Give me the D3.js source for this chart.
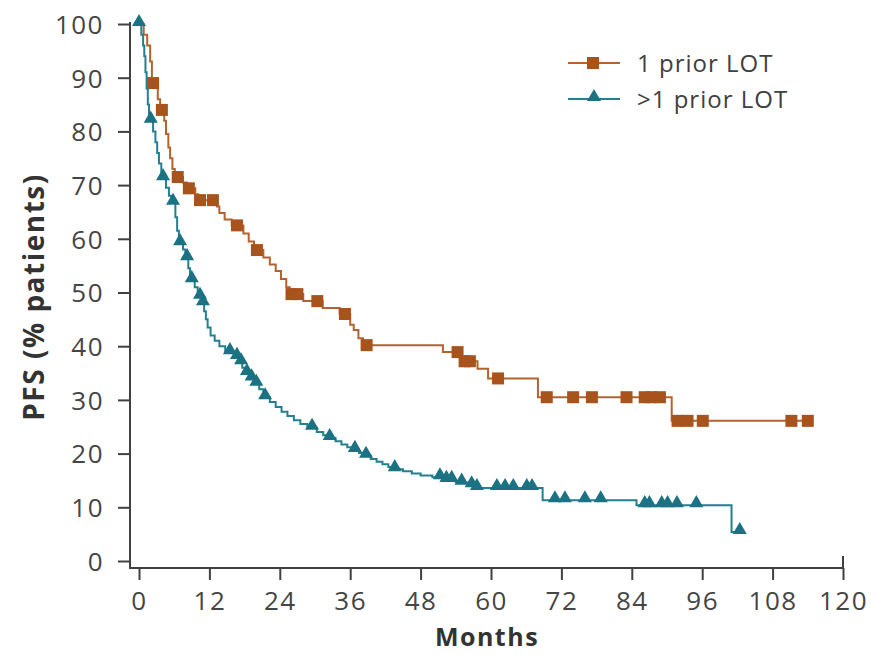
<!DOCTYPE html>
<html>
<head>
<meta charset="utf-8">
<script src="https://cdn.jsdelivr.net/npm/d3@7"></script>
<style>
  body { margin: 0; background: #fff; }
  svg text { font-family: "Open Sans", sans-serif; }
  .tick text { fill: #454545; font-size: 26px; letter-spacing: 1.5px; }
  .tick line { stroke: #404040; stroke-width: 2; }
</style>
</head>
<body>
<div id="chart"></div>
<script>
// Kaplan-Meier PFS by number of prior lines of therapy
var xTicks = [0, 12, 24, 36, 48, 60, 72, 84, 96, 108, 120];
var yTicks = [0, 10, 20, 30, 40, 50, 60, 70, 80, 90, 100];

// step points: [month, PFS %]
var onePriorSteps = [
  [0, 100], [0.8, 98], [1.4, 96], [1.9, 93], [2.2, 89], [3.2, 86], [3.6, 84],
  [4.3, 82], [4.6, 79.5], [5.0, 77], [5.3, 75], [5.7, 73], [6.1, 71.5],
  [7.5, 70.5], [8.2, 69.4], [9.6, 68.3], [10.1, 67.2], [13.3, 66], [13.7, 64.8],
  [14.6, 63.6], [15.8, 62.5], [17.8, 61], [18.7, 59.5], [19.6, 57.9],
  [21.2, 56.5], [22.3, 55.2], [23.3, 54], [24.2, 52.5], [25.1, 51], [25.7, 49.7],
  [28, 48.4], [31.3, 47.1], [34.2, 46], [36.0, 44], [36.6, 43], [37.4, 41.5],
  [38.2, 40.2], [51.8, 38.9], [55.0, 37.2], [57.7, 35.8], [59.5, 34],
  [68.0, 30.5], [90.8, 26.1]
];
var onePriorCensor = [2.4, 3.9, 6.6, 8.5, 10.4, 12.6, 16.7, 20.1, 26.0, 27.0,
  30.4, 35.1, 38.8, 54.3, 55.5, 56.4, 61.2, 69.5, 74.0, 77.2, 83.1, 86.2, 87.4,
  88.8, 91.8, 93.5, 96.1, 111.2, 114];

var multiPriorSteps = [
  [0, 100], [0.4, 98], [0.7, 96], [0.9, 94], [1.1, 91], [1.3, 88], [1.5, 85],
  [1.7, 82], [2.4, 80], [2.8, 78], [3.1, 76], [3.4, 74], [3.8, 71.3],
  [4.6, 69.5], [5.1, 68], [5.5, 66.7], [6.2, 64], [6.5, 61.5], [6.8, 59.2],
  [7.5, 58], [7.9, 56.4], [8.4, 54.5], [8.7, 53], [8.9, 52.3], [9.5, 51],
  [10.0, 49.2], [10.6, 48], [11.1, 46.5], [11.4, 45], [11.7, 43.5], [12.2, 42],
  [12.9, 41], [13.7, 40], [14.7, 38.9], [16.2, 38], [16.9, 37], [17.6, 36],
  [18.4, 35], [19.2, 34], [19.8, 33], [20.5, 32], [21.2, 30.5], [22.3, 29.6],
  [23.3, 28.7], [24.3, 27.8], [25.3, 27], [26.4, 26.2], [27.5, 25.5],
  [28.7, 24.8], [30.3, 24], [31.4, 23.4], [32.4, 22.9], [33.5, 22.3],
  [34.5, 21.7], [35.5, 21.2], [36.4, 20.7], [37.5, 20.1], [38.4, 19.6],
  [39.5, 19], [40.5, 18.5], [41.5, 18], [42.5, 17.5], [43.3, 17.1], [45, 16.7],
  [46.5, 16.3], [48, 15.9], [50, 15.6], [52.3, 15.1], [54, 14.6], [56.2, 14.1],
  [57.5, 13.6], [68.8, 11.3], [84.8, 10.4], [101, 5.4]
];
var multiPriorCensor = [0, 2.0, 4.1, 5.8, 7.0, 8.2, 9.0, 10.4, 10.9, 15.5, 16.7,
  17.4, 18.4, 19.2, 20.0, 21.5, 29.5, 32.5, 36.8, 38.7, 43.6, 51.3, 52.4, 53.3,
  55.0, 56.7, 57.6, 61.0, 62.4, 63.8, 66.1, 67.0, 70.9, 72.6, 76.0, 78.7, 86.2,
  87.0, 89.1, 90.1, 91.7, 95.0, 102.4];

var seriesNames = ["1 prior LOT", ">1 prior LOT"];
var seriesColors = ["#a9531c", "#1b7283"];
var lineColors = ["#b4632f", "#23808f"];

var svgWidth = 871;
var svgHeight = 655;

var svg = d3.select("#chart")
  .append("svg")
  .attr("width", svgWidth)
  .attr("height", svgHeight);

var x = d3.scaleLinear().domain([0, 120]).range([139, 843]);
var y = d3.scaleLinear().domain([0, 100]).range([561, 24]);

// axes
var xAxis = svg.append("g")
  .attr("transform", "translate(0, 568)")
  .call(d3.axisBottom(x).tickValues(xTicks).tickSize(12).tickPadding(5));
xAxis.select(".domain").remove();
xAxis.selectAll("text").attr("dy", "0.95em");

var yAxis = svg.append("g")
  .attr("transform", "translate(130, 0)")
  .call(d3.axisLeft(y).tickValues(yTicks).tickSize(12).tickPadding(14));
yAxis.select(".domain").remove();
yAxis.selectAll("text").attr("dy", "0.36em");

svg.append("path")
  .attr("d", "M130,22V568H843V556")
  .attr("fill", "none")
  .attr("stroke", "#404040")
  .attr("stroke-width", 2);

svg.append("text")
  .attr("x", 487)
  .attr("y", 646)
  .attr("text-anchor", "middle")
  .style("font-size", "25px")
  .style("font-weight", "bold")
  .style("letter-spacing", "1.5px")
  .style("fill", "#333")
  .text("Months");

svg.append("text")
  .attr("transform", "translate(44, 297) rotate(-90)")
  .attr("text-anchor", "middle")
  .style("font-size", "28px")
  .style("font-weight", "bold")
  .style("letter-spacing", "1.5px")
  .style("fill", "#333")
  .text("PFS (% patients)");

// survival value at time t
function survAt(steps, t) {
  var i = d3.bisectRight(steps.map(d => d[0]), t) - 1;
  return steps[Math.max(i, 0)][1];
}

var stepLine = d3.line()
  .x(d => x(d[0]))
  .y(d => y(d[1]))
  .curve(d3.curveStepAfter);

var triangle = d3.symbol().type(d3.symbolTriangle).size(85);

function drawSeries(steps, censor, idx) {
  var tEnd = d3.max(censor.concat(steps.map(d => d[0])));
  var pts = steps.concat([[tEnd + 0.8, steps[steps.length - 1][1]]]);

  svg.append("path")
    .datum(pts)
    .attr("d", stepLine)
    .attr("fill", "none")
    .attr("stroke", lineColors[idx])
    .attr("stroke-width", 2);

  var g = svg.append("g");
  if (idx === 0) {
    g.selectAll("rect")
      .data(censor)
      .enter()
      .append("rect")
      .attr("x", d => x(d) - 6)
      .attr("y", d => y(survAt(steps, d)) - 6)
      .attr("width", 12)
      .attr("height", 12)
      .attr("fill", seriesColors[idx]);
  } else {
    g.selectAll("path")
      .data(censor)
      .enter()
      .append("path")
      .attr("d", triangle)
      .attr("transform", d => `translate(${x(d)}, ${y(survAt(steps, d)) - 2})`)
      .attr("fill", seriesColors[idx]);
  }
}

drawSeries(onePriorSteps, onePriorCensor, 0);
drawSeries(multiPriorSteps, multiPriorCensor, 1);

// legend
var legend = svg.append("g");
seriesNames.forEach(function(name, i) {
  var ly = 63 + i * 36;
  legend.append("line")
    .attr("x1", 568).attr("x2", 620)
    .attr("y1", ly).attr("y2", ly)
    .attr("stroke", lineColors[i])
    .attr("stroke-width", 2);
  if (i === 0) {
    legend.append("rect")
      .attr("x", 587).attr("y", ly - 6)
      .attr("width", 12).attr("height", 12)
      .attr("fill", seriesColors[i]);
  } else {
    legend.append("path")
      .attr("d", triangle)
      .attr("transform", `translate(594, ${ly - 2})`)
      .attr("fill", seriesColors[i]);
  }
  legend.append("text")
    .attr("x", 637)
    .attr("y", ly)
    .attr("dy", "0.36em")
    .style("font-size", "24px")
    .style("letter-spacing", "1px")
    .style("fill", "#404040")
    .text(name);
});
</script>
</body>
</html>
